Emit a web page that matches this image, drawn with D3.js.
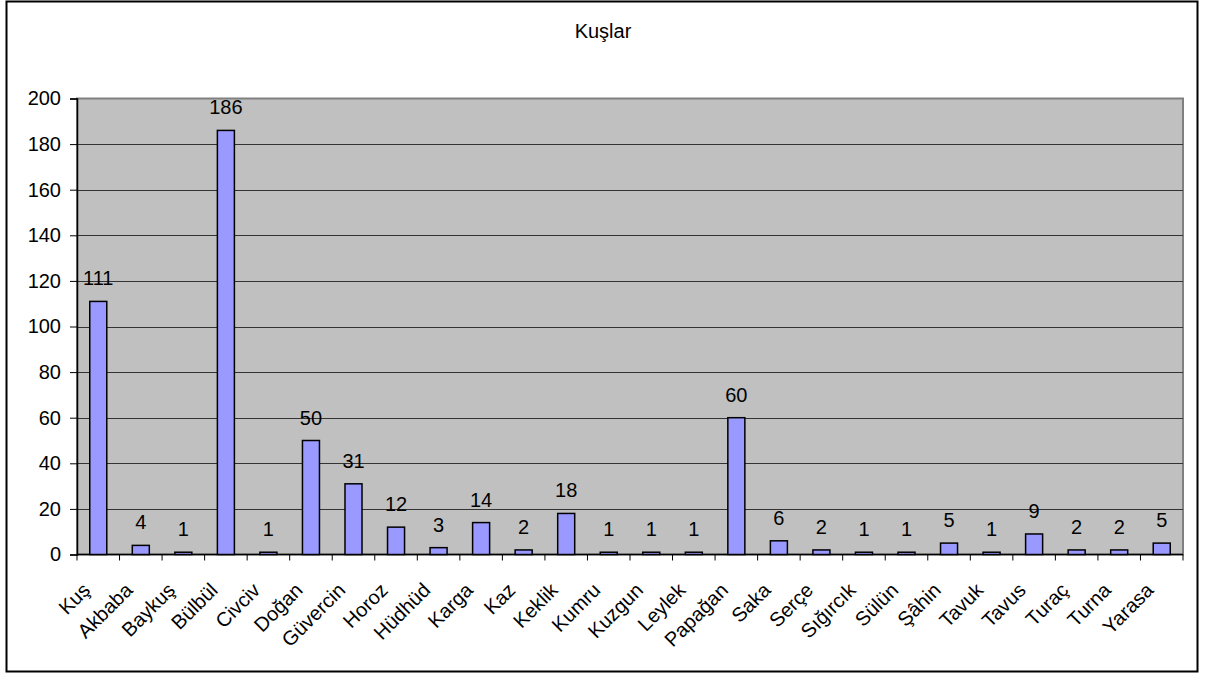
<!DOCTYPE html>
<html>
<head>
<meta charset="utf-8">
<script src="https://cdn.jsdelivr.net/npm/d3@7"></script>
<style>
  body { margin: 0; background: #fff; }
  text { font-family: "Liberation Sans", Arial, sans-serif; fill: #000; }
</style>
</head>
<body>
<div class="canvas"></div>
<script>
const birds = ["Kuş", "Akbaba", "Baykuş", "Bülbül", "Civciv", "Doğan", "Güvercin", "Horoz", "Hüdhüd",
  "Karga", "Kaz", "Keklik", "Kumru", "Kuzgun", "Leylek", "Papağan", "Saka", "Serçe", "Sığırcık",
  "Sülün", "Şâhin", "Tavuk", "Tavus", "Turaç", "Turna", "Yarasa"];
const counts = [111, 4, 1, 186, 1, 50, 31, 12, 3, 14, 2, 18, 1, 1, 1, 60, 6, 2, 1, 1, 5, 1, 9, 2, 2, 5];
const yTicks = [0, 20, 40, 60, 80, 100, 120, 140, 160, 180, 200];

const dims = { width: 1218, height: 675 };
const plot = { left: 77, top: 98.5, right: 1183, bottom: 554.5 };

const svg = d3
  .select(".canvas")
  .append("svg")
  .attr("width", dims.width)
  .attr("height", dims.height);

// outer chart border
svg
  .append("rect")
  .attr("x", 6.5)
  .attr("y", 1.5)
  .attr("width", 1191)
  .attr("height", 670)
  .attr("fill", "#fff")
  .attr("stroke", "#000")
  .attr("stroke-width", 2);

svg
  .append("text")
  .text("Kuşlar")
  .attr("x", 603)
  .attr("y", 38)
  .attr("text-anchor", "middle")
  .attr("font-size", 20);

const x = d3
  .scaleBand()
  .domain(birds)
  .range([plot.left, plot.right])
  .paddingInner(0.6)
  .paddingOuter(0.3);

const y = d3.scaleLinear().domain([0, 200]).range([plot.bottom, plot.top]);

// plot area
svg
  .append("rect")
  .attr("x", plot.left)
  .attr("y", plot.top)
  .attr("width", plot.right - plot.left)
  .attr("height", plot.bottom - plot.top)
  .attr("fill", "#c0c0c0")
  .attr("stroke", "#808080")
  .attr("stroke-width", 2);

// gridlines
svg
  .append("g")
  .selectAll("line")
  .data(yTicks.filter((d) => d > 0 && d < 200))
  .join("line")
  .attr("x1", plot.left)
  .attr("x2", plot.right)
  .attr("y1", (d) => Math.round(y(d)) + 0.5)
  .attr("y2", (d) => Math.round(y(d)) + 0.5)
  .attr("stroke", "#333")
  .attr("stroke-width", 1);

// y axis
const yAxis = svg
  .append("g")
  .attr("transform", `translate(${plot.left}, 0)`)
  .call(d3.axisLeft(y).tickValues(yTicks).tickSize(7).tickPadding(9));
yAxis.select(".domain").attr("stroke", "#000").attr("stroke-width", 1.5);
yAxis.selectAll(".tick line").attr("stroke", "#000");
yAxis.selectAll("text").attr("font-size", 20).attr("font-family", "Liberation Sans, Arial");

// x axis ticks at category boundaries
const bounds = d3.range(birds.length + 1).map((i) => plot.left + i * (plot.right - plot.left) / birds.length);
svg
  .append("line")
  .attr("x1", plot.left)
  .attr("x2", plot.right)
  .attr("y1", plot.bottom)
  .attr("y2", plot.bottom)
  .attr("stroke", "#000")
  .attr("stroke-width", 1.5);
svg
  .append("g")
  .selectAll("line")
  .data(bounds)
  .join("line")
  .attr("x1", (d) => d)
  .attr("x2", (d) => d)
  .attr("y1", plot.bottom)
  .attr("y2", plot.bottom + 6)
  .attr("stroke", "#000");

// category labels
svg
  .append("g")
  .selectAll("text")
  .data(birds)
  .join("text")
  .text((d) => d)
  .attr("text-anchor", "end")
  .attr("font-size", 20)
  .attr("transform", (d) => `translate(${x(d) + x.bandwidth() / 2 - 7}, ${plot.bottom + 37}) rotate(-45)`);

// bars
svg
  .append("g")
  .selectAll("rect")
  .data(counts)
  .join("rect")
  .attr("x", (d, i) => x(birds[i]))
  .attr("y", (d) => y(d))
  .attr("width", x.bandwidth())
  .attr("height", (d) => y(0) - y(d))
  .attr("fill", "#9999ff")
  .attr("stroke", "#000")
  .attr("stroke-width", 1.5);

// value labels
svg
  .append("g")
  .selectAll("text")
  .data(counts)
  .join("text")
  .text((d) => d)
  .attr("x", (d, i) => x(birds[i]) + x.bandwidth() / 2)
  .attr("y", (d) => y(d) - 16)
  .attr("text-anchor", "middle")
  .attr("font-size", 20);
</script>
</body>
</html>
